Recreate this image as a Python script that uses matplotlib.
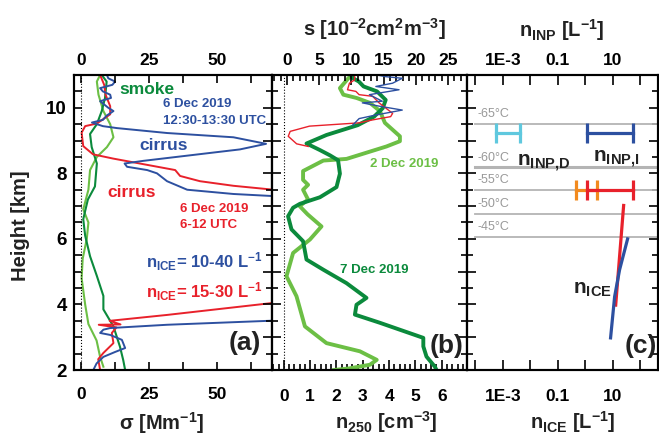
import numpy as np
import matplotlib
matplotlib.use("Agg")
import matplotlib.pyplot as plt
from matplotlib.ticker import MultipleLocator, LogLocator, NullFormatter

plt.rcParams['font.family'] = ['Liberation Sans', 'DejaVu Sans']
plt.rcParams['font.weight'] = 'bold'
plt.rcParams['mathtext.fontset'] = 'custom'
plt.rcParams['mathtext.bf'] = 'Liberation Sans:bold'
plt.rcParams['mathtext.rm'] = 'Liberation Sans:bold'
plt.rcParams['mathtext.default'] = 'bf'

RED = '#e8212b'
BLUE = '#2d50a0'
DGREEN = '#0b8a3c'
LGREEN = '#6cbf45'
CYAN = '#5fc8de'
ORANGE = '#f28a1e'
GREY = '#b4b4b4'
INK = '#222222'

# ---- panel (a): extinction coefficient sigma [Mm-1] vs height [km]
red_a_h = [2.0, 2.33, 2.52, 2.82, 3.13, 3.3, 3.38, 3.39, 3.5, 3.68, 4.06,
           np.nan, 7.49, 7.62, 7.76, 7.92, 8.1, 8.45, 8.58, 8.83, 9.24, 9.44,
           9.52, 9.8, 10.05, 10.4, 10.7, 11.0]
red_a_x = [7.0, 6.3, 8.2, 11.9, 11.3, 13.0, 6.5, 14.5, 10.5, 31.6, 72,
           np.nan, 72, 56, 43.7, 36.4, 34.6, 11.8, 4.4, 0.8, 0.2, 1.5,
           5.8, 10.7, 10.7, 9.0, 8.5, 7.0]
blue_a_h = [2.0, 2.2, 2.4, 2.55, 2.67, 2.92, 3.07, 3.13, 3.23, 3.28, 3.38, 3.51,
            np.nan, 7.3, 7.37, 7.5, 7.76, 8.0, 8.1, 8.2, 8.3, 8.38, 8.73, 8.9,
            9.1, 9.23, 9.38, 9.44, 9.55, 9.63, 9.76, 9.9, 10.0, 10.1, 10.2,
            10.3, 10.4, 10.5, 10.6, 10.7, 10.8, 10.9, 11.0]
blue_a_x = [4.5, 5.7, 8.2, 12.5, 16.2, 15.0, 10.7, 7.0, 8.2, 10.7, 31.6, 72,
            np.nan, 72, 56, 39, 31.6, 27.9, 24.3, 16.9, 16.0, 22.8, 58.4, 68,
            56, 31.6, 13.2, 8.0, 4.0, 8.0, 9.4, 11.9, 10.0, 8.5, 7.0,
            11.0, 10.7, 8.0, 7.0, 11.5, 12.5, 10.0, 9.5]
dgreen_a_h = [2.0, 2.3, 2.71, 3.33, 3.85, 4.26, 4.87, 5.47, 6.1, 6.6, 6.85,
              7.2, 7.6, 8.3, 8.8, 9.2, 9.5, 9.9, 10.3, 10.8, 11.0]
dgreen_a_x = [16.2, 15.5, 14.3, 11.9, 8.2, 8.2, 5.8, 3.3, 1.5, 0.8, 1.5,
              2.5, 5.1, 5.8, 3.9, 3.3, 5.8, 7.6, 8.8, 9.4, 7.6]
lgreen_a_h = [2.1, 2.4, 2.9, 3.4, 4.0, 4.8, 5.4, 6.0, 6.5, 6.9, 7.5, 8.1,
              8.5, 8.8, 9.1, 9.5, 9.9, 10.4, 10.8, 11.0]
lgreen_a_x = [8.2, 7.0, 5.7, 2.7, 1.5, 0.2, 0.6, 2.1, 2.7, 0.8, 2.7, 3.3,
              5.8, 9.5, 11.9, 10.7, 8.2, 6.4, 5.8, 7.0]

# ---- panel (b): n250 [cm-3] (thick) and s [1e-2 cm2 m-3] (thin)
lgreen_b_h = [11.0, 10.9, 10.6, 10.4, 10.3, 10.15, 9.9, 9.54, 9.13, 8.98, 8.82,
              8.44, 8.39, 8.07, 7.8, 7.65, 7.5, 7.2, 7.0, 6.75, 6.38, 5.98,
              5.57, 4.86, 4.25, 3.33, 2.82, 2.57, 2.31, 2.16, 2.05, 2.0]
lgreen_b_n = [2.6, 2.45, 2.13, 2.26, 2.76, 3.27, 3.65, 3.84, 4.41, 4.41, 3.9,
              2.38, 1.5, 0.73, 0.73, 0.92, 0.73, 0.92, 0.6, 0.9, 1.43, 0.99,
              0.35, 0.1, 0.48, 0.8, 1.62, 2.89, 3.53, 3.27, 2.5, 1.9]
dgreen_b_h = [11.0, 10.9, 10.8, 10.65, 10.5, 10.24, 9.99, 9.73, 9.47, 9.17,
              8.91, 8.71, 8.55, 8.4, 7.99, 7.58, 7.27, 7.07, 6.95, 6.69, 6.29,
              5.93, 5.37, 5.06, 4.65, 4.2, 3.99, 3.69, 3.44, 2.98, 2.72, 2.41,
              2.1, 2.0]
dgreen_b_n = [2.55, 2.63, 2.85, 3.03, 3.54, 3.87, 3.76, 3.43, 2.81, 1.62,
              0.86, 1.37, 1.75, 2.06, 2.13, 2.0, 1.37, 0.61, 0.35, 0.16, 0.29,
              0.73, 0.86, 1.5, 2.38, 3.14, 2.76, 2.7, 3.65, 5.3, 5.3, 5.42,
              5.74, 5.8]
red_b_h = [11.0, 10.85, 10.75, 10.55, 10.5, 10.4, 10.35, 10.15, 9.83, 9.73,
           9.63, 9.54, 9.44, 9.28, 9.13, 8.9, 8.82]
red_b_s = [10.5, 10.5, 9.7, 9.4, 10.7, 11.2, 13.3, 14.3, 16.4, 16.1,
           13.3, 11.2, 3.5, 0.5, 0.2, 1.5, 3.3]
blue_b_h = [11.0, 10.95, 10.9, 10.75, 10.65, 10.55, 10.4, 10.2, 10.15, 10.05,
            9.93, 9.78, 9.67, 9.47]
blue_b_s = [14.0, 15.3, 17.9, 16.4, 13.8, 17.4, 12.8, 14.8, 11.7, 14.3,
            17.9, 13.8, 11.2, 10.2]

# ---- panel (c): INP and ice crystal number concentrations [L-1]
temp_labels = ['-65°C', '-60°C', '-55°C', '-50°C', '-45°C']
temp_h = [9.51, 8.18, 7.48, 6.75, 6.07]
inp_d_h, inp_d_range = 9.24, (5.6e-4, 4.1e-3)
inp_i_h, inp_i_range = 9.24, (1.13, 53)
inp_d55_h, inp_d55_range = 7.48, (0.45, 2.6)
inp_i55_h, inp_i55_range = 7.48, (1.13, 53)
nice_red_h = [7.02, 3.98]
nice_red_x = [25.1, 12.9]
nice_blue_h = [6.0, 5.06, 4.24, 2.98]
nice_blue_x = [35, 17.9, 11.8, 8.4]

W, H = 659, 436
fig = plt.figure(figsize=(W / 100, H / 100), dpi=100)


def box(x0, x1, y0=75, y1=370):
    return [x0 / W, 1 - y1 / H, (x1 - x0) / W, (y1 - y0) / H]


def ftext(x, y, s, **kw):
    fig.text(x / W, 1 - y / H, s, **kw)


def style_spines(ax):
    for sp in ax.spines.values():
        sp.set_linewidth(1.5)


TL = 12.5

axa = fig.add_axes(box(74, 271.5))
axb = fig.add_axes(box(271.5, 467))
axc = fig.add_axes(box(467, 658))

for ax in (axa, axb, axc):
    ax.set_ylim(2, 11)
    style_spines(ax)

# panel (a)
axa.plot(lgreen_a_x, lgreen_a_h, color=LGREEN, lw=1.5)
axa.plot(dgreen_a_x, dgreen_a_h, color=DGREEN, lw=1.5)
axa.plot(red_a_x, red_a_h, color=RED, lw=1.4)
axa.plot(blue_a_x, blue_a_h, color=BLUE, lw=1.4)
axa.axvline(0, color='k', lw=0.8, ls=':')
axa.set_xlim(-2.6, 70)
axa.xaxis.set_major_locator(MultipleLocator(25))
axa.xaxis.set_minor_locator(MultipleLocator(12.5))
axa.yaxis.set_major_locator(MultipleLocator(2))
axa.yaxis.set_minor_locator(MultipleLocator(0.5))
axa.tick_params(which='both', direction='in', right=False, labelsize=TL,
                width=1.2, length=6)
axa.tick_params(axis='x', pad=12)
axa.tick_params(axis='y', labelsize=13.5, pad=5)

axat = axa.twiny()
axat.set_xlim(axa.get_xlim())
axat.xaxis.set_major_locator(MultipleLocator(25))
axat.xaxis.set_minor_locator(MultipleLocator(12.5))
axat.tick_params(which='both', direction='in', labelsize=TL, width=1.2,
                 length=6, pad=5)
style_spines(axat)

# panel (b)
axb.plot(lgreen_b_n, lgreen_b_h, color=LGREEN, lw=2.8)
axb.plot(dgreen_b_n, dgreen_b_h, color=DGREEN, lw=2.8)
axb.axvline(0, color='k', lw=0.8, ls=':')
axb.set_xlim(-0.47, 6.96)
axb.set_xticks(range(0, 7))
axb.xaxis.set_minor_locator(MultipleLocator(0.2))
axb.yaxis.set_major_locator(MultipleLocator(1))
axb.yaxis.set_minor_locator(MultipleLocator(0.5))
axb.tick_params(axis='x', which='both', direction='in', labelsize=TL,
                width=1.2, pad=14)
axb.tick_params(axis='x', which='major', length=7)
axb.tick_params(axis='x', which='minor', length=4)
axb.tick_params(axis='y', which='both', direction='inout', labelleft=False,
                width=1.2)
axb.tick_params(axis='y', which='major', length=13)
axb.tick_params(axis='y', which='minor', length=9)

axbt = axb.twiny()
axbt.plot(red_b_s, red_b_h, color=RED, lw=1.0)
axbt.plot(blue_b_s, blue_b_h, color=BLUE, lw=1.0)
axbt.set_xlim(-2.4, 27.95)
axbt.set_ylim(2, 11)
axbt.xaxis.set_major_locator(MultipleLocator(5))
axbt.xaxis.set_minor_locator(MultipleLocator(1))
axbt.tick_params(axis='x', which='both', direction='in', labelsize=TL,
                 width=1.2, pad=5)
axbt.tick_params(axis='x', which='major', length=7)
axbt.tick_params(axis='x', which='minor', length=4)
style_spines(axbt)

# panel (c)
axc.set_xscale('log')
axc.set_xlim(10 ** -4.3, 10 ** 2.65)
for lab, h in zip(temp_labels, temp_h):
    axc.axhline(h, xmin=0.04, color=GREY, lw=1.3 if lab != '-60°C' else 2.2)
    axc.text(10 ** -3.9, h + 0.12, lab, color='#999999', fontsize=9,
             fontweight='normal', va='bottom', ha='left')


def bar(ax, h, rng, color):
    ax.plot(rng, [h, h], color=color, lw=2.3, marker='|', ms=15, mew=2.3)


bar(axc, inp_d_h, inp_d_range, CYAN)
bar(axc, inp_i_h, inp_i_range, BLUE)
bar(axc, inp_d55_h, inp_d55_range, ORANGE)
bar(axc, inp_i55_h, inp_i55_range, RED)
axc.plot(nice_red_x, nice_red_h, color=RED, lw=2.3)
axc.plot(nice_blue_x, nice_blue_h, color=BLUE, lw=2.3)

dec = [10.0 ** k for k in range(-4, 3)]
dec_labels = ['', '1E-3', '', '0.1', '', '10', '']
axc.set_xticks(dec, dec_labels)
axc.xaxis.set_minor_locator(LogLocator(base=10, subs=np.arange(2, 10)))
axc.xaxis.set_minor_formatter(NullFormatter())
axc.tick_params(axis='x', which='both', direction='in', labelsize=TL,
                width=1.2)
axc.tick_params(axis='x', which='major', length=7, pad=14)
axc.tick_params(axis='x', which='minor', length=4)
axc.yaxis.set_major_locator(MultipleLocator(1))
axc.yaxis.set_minor_locator(MultipleLocator(0.5))
axc.tick_params(axis='y', which='both', direction='inout', labelleft=False,
                right=True, width=1.2)
axc.tick_params(axis='y', which='major', length=13)
axc.tick_params(axis='y', which='minor', length=9)

axct = axc.twiny()
axct.set_xscale('log')
axct.set_xlim(axc.get_xlim())
axct.set_xticks(dec, dec_labels)
axct.xaxis.set_minor_locator(LogLocator(base=10, subs=np.arange(2, 10)))
axct.xaxis.set_minor_formatter(NullFormatter())
axct.tick_params(axis='x', which='both', direction='in', labelsize=TL,
                 width=1.2, pad=5)
axct.tick_params(axis='x', which='major', length=7)
axct.tick_params(axis='x', which='minor', length=4)
style_spines(axct)

# axis titles
ftext(21, 226, 'Height [km]', rotation=90, fontsize=14.5, ha='center',
      va='center', color=INK)
ftext(162, 423, 'σ [Mm$^{-1}$]', fontsize=14.5, ha='center', va='center',
      color=INK)
ftext(386, 422, 'n$_{250}$ [cm$^{-3}$]', fontsize=14.5, ha='center',
      va='center', color=INK)
ftext(573, 422, 'n$_{ICE}$ [L$^{-1}$]', fontsize=14.5, ha='center',
      va='center', color=INK)
ftext(374, 29, 's [10$^{-2}$cm$^{2}$m$^{-3}$]', fontsize=14.5, ha='center',
      va='center', color=INK)
ftext(562, 30, 'n$_{INP}$ [L$^{-1}$]', fontsize=14.5, ha='center',
      va='center', color=INK)

# annotations
ftext(119, 89, 'smoke', color=DGREEN, fontsize=12.5, va='center')
ftext(163, 104, '6 Dec 2019', color=BLUE, fontsize=9.5, va='center')
ftext(163, 121, '12:30-13:30 UTC', color=BLUE, fontsize=9.5, va='center')
ftext(139, 145, 'cirrus', color=BLUE, fontsize=12.5, va='center')
ftext(107, 192, 'cirrus', color=RED, fontsize=12.5, va='center')
ftext(180, 209, '6 Dec 2019', color=RED, fontsize=9.5, va='center')
ftext(180, 225, '6-12 UTC', color=RED, fontsize=9.5, va='center')
ftext(146, 268, 'n$_{ICE}$= 10-40 L$^{-1}$', color=BLUE, fontsize=12,
      va='baseline')
ftext(146, 298, 'n$_{ICE}$= 15-30 L$^{-1}$', color=RED, fontsize=12,
      va='baseline')
ftext(370, 164, '2 Dec 2019', color=LGREEN, fontsize=9.5, va='center')
ftext(340, 270, '7 Dec 2019', color=DGREEN, fontsize=9.5, va='center')
ftext(517, 166, 'n$_{INP{,}D}$', fontsize=15, va='baseline', color=INK)
ftext(593, 162, 'n$_{INP{,}I}$', fontsize=15, va='baseline', color=INK)
ftext(573, 294, 'n$_{ICE}$', fontsize=15, va='baseline', color=INK)
ftext(229, 343, '(a)', fontsize=19, va='center', color=INK)
ftext(430, 346, '(b)', fontsize=19, va='center', color=INK)
ftext(625, 346, '(c)', fontsize=19, va='center', color=INK)

fig.savefig('out.png', dpi=100)
